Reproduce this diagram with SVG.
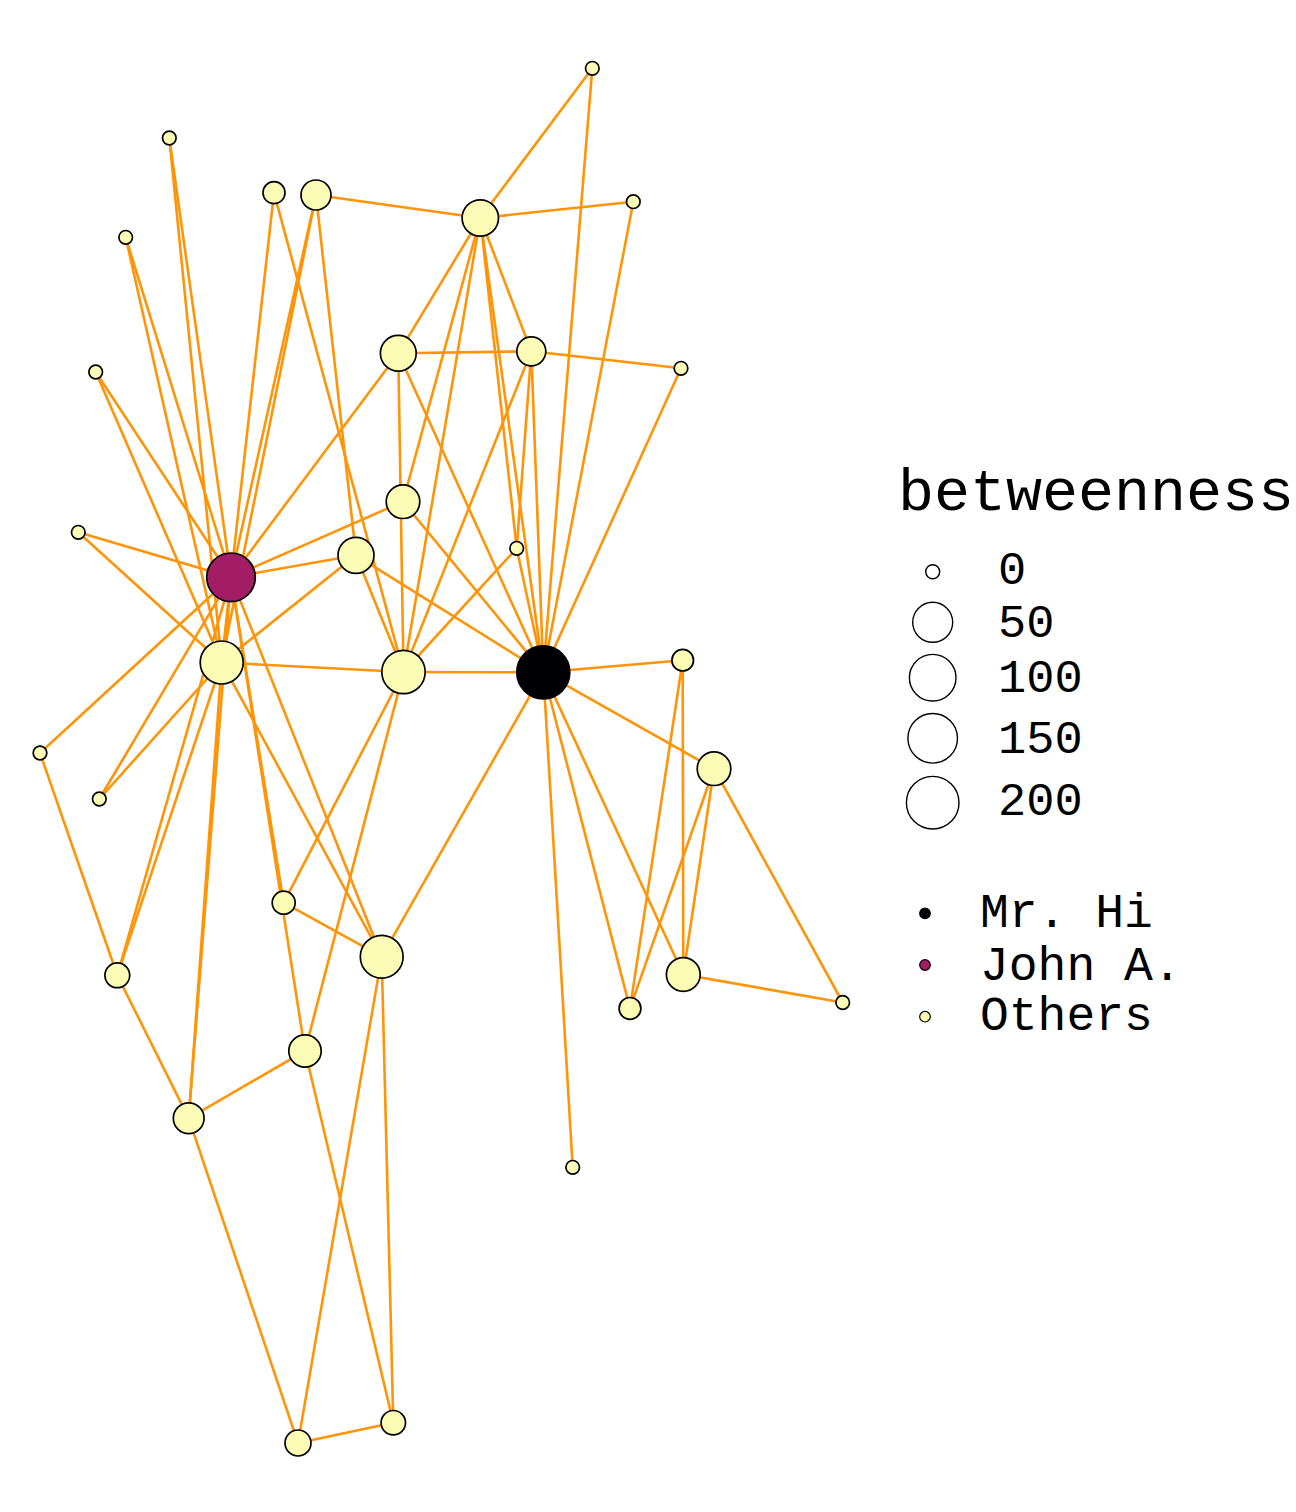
<svg xmlns="http://www.w3.org/2000/svg" width="1296" height="1512" viewBox="0 0 1296 1512">
<style>
.e{stroke:#FF9408;stroke-width:2.6;fill:none;stroke-linecap:round}
.n{stroke:#000;stroke-width:1.7}
.o{fill:#FBFDB7}
.lg{fill:none;stroke:#000;stroke-width:1.4}
.t{font-family:"Liberation Mono","Courier New",monospace;fill:#000}
</style>
<rect width="1296" height="1512" fill="#fff"/>
<g id="edges" class="e">
<line x1="543.3" y1="672.3" x2="480.3" y2="218"/>
<line x1="543.3" y1="672.3" x2="403.5" y2="672"/>
<line x1="543.3" y1="672.3" x2="531.3" y2="351.3"/>
<line x1="543.3" y1="672.3" x2="682.7" y2="660.2"/>
<line x1="543.3" y1="672.3" x2="714" y2="768.7"/>
<line x1="543.3" y1="672.3" x2="683.3" y2="974.5"/>
<line x1="543.3" y1="672.3" x2="516.7" y2="548.3"/>
<line x1="543.3" y1="672.3" x2="356" y2="555.3"/>
<line x1="543.3" y1="672.3" x2="630" y2="1008.4"/>
<line x1="543.3" y1="672.3" x2="572.7" y2="1167.3"/>
<line x1="543.3" y1="672.3" x2="681" y2="368.3"/>
<line x1="543.3" y1="672.3" x2="398.3" y2="353.3"/>
<line x1="543.3" y1="672.3" x2="592.3" y2="68.3"/>
<line x1="543.3" y1="672.3" x2="403" y2="501.7"/>
<line x1="543.3" y1="672.3" x2="633.3" y2="201.7"/>
<line x1="543.3" y1="672.3" x2="381.7" y2="956.7"/>
<line x1="480.3" y1="218" x2="403.5" y2="672"/>
<line x1="480.3" y1="218" x2="531.3" y2="351.3"/>
<line x1="480.3" y1="218" x2="516.7" y2="548.3"/>
<line x1="480.3" y1="218" x2="398.3" y2="353.3"/>
<line x1="480.3" y1="218" x2="592.3" y2="68.3"/>
<line x1="480.3" y1="218" x2="403" y2="501.7"/>
<line x1="480.3" y1="218" x2="633.3" y2="201.7"/>
<line x1="480.3" y1="218" x2="316" y2="195"/>
<line x1="403.5" y1="672" x2="531.3" y2="351.3"/>
<line x1="403.5" y1="672" x2="516.7" y2="548.3"/>
<line x1="403.5" y1="672" x2="356" y2="555.3"/>
<line x1="403.5" y1="672" x2="274" y2="192.7"/>
<line x1="403.5" y1="672" x2="398.3" y2="353.3"/>
<line x1="403.5" y1="672" x2="305" y2="1051"/>
<line x1="403.5" y1="672" x2="283.7" y2="902.7"/>
<line x1="403.5" y1="672" x2="221.7" y2="662.5"/>
<line x1="531.3" y1="351.3" x2="516.7" y2="548.3"/>
<line x1="531.3" y1="351.3" x2="681" y2="368.3"/>
<line x1="531.3" y1="351.3" x2="398.3" y2="353.3"/>
<line x1="682.7" y1="660.2" x2="683.3" y2="974.5"/>
<line x1="682.7" y1="660.2" x2="630" y2="1008.4"/>
<line x1="714" y1="768.7" x2="683.3" y2="974.5"/>
<line x1="714" y1="768.7" x2="630" y2="1008.4"/>
<line x1="714" y1="768.7" x2="842.7" y2="1002.5"/>
<line x1="683.3" y1="974.5" x2="842.7" y2="1002.5"/>
<line x1="356" y1="555.3" x2="316" y2="195"/>
<line x1="356" y1="555.3" x2="221.7" y2="662.5"/>
<line x1="356" y1="555.3" x2="231" y2="577.3"/>
<line x1="274" y1="192.7" x2="231" y2="577.3"/>
<line x1="398.3" y1="353.3" x2="231" y2="577.3"/>
<line x1="403" y1="501.7" x2="231" y2="577.3"/>
<line x1="99.3" y1="799" x2="221.7" y2="662.5"/>
<line x1="99.3" y1="799" x2="231" y2="577.3"/>
<line x1="78.3" y1="532.3" x2="221.7" y2="662.5"/>
<line x1="78.3" y1="532.3" x2="231" y2="577.3"/>
<line x1="95.7" y1="372" x2="221.7" y2="662.5"/>
<line x1="95.7" y1="372" x2="231" y2="577.3"/>
<line x1="125.7" y1="237.3" x2="221.7" y2="662.5"/>
<line x1="125.7" y1="237.3" x2="231" y2="577.3"/>
<line x1="169.3" y1="138" x2="221.7" y2="662.5"/>
<line x1="169.3" y1="138" x2="231" y2="577.3"/>
<line x1="188.7" y1="1118.3" x2="298" y2="1443"/>
<line x1="188.7" y1="1118.3" x2="305" y2="1051"/>
<line x1="188.7" y1="1118.3" x2="117.3" y2="975.3"/>
<line x1="188.7" y1="1118.3" x2="221.7" y2="662.5"/>
<line x1="188.7" y1="1118.3" x2="231" y2="577.3"/>
<line x1="393.3" y1="1422.7" x2="298" y2="1443"/>
<line x1="393.3" y1="1422.7" x2="305" y2="1051"/>
<line x1="393.3" y1="1422.7" x2="381.7" y2="956.7"/>
<line x1="298" y1="1443" x2="381.7" y2="956.7"/>
<line x1="40" y1="753" x2="117.3" y2="975.3"/>
<line x1="40" y1="753" x2="231" y2="577.3"/>
<line x1="305" y1="1051" x2="231" y2="577.3"/>
<line x1="283.7" y1="902.7" x2="381.7" y2="956.7"/>
<line x1="283.7" y1="902.7" x2="231" y2="577.3"/>
<line x1="117.3" y1="975.3" x2="221.7" y2="662.5"/>
<line x1="117.3" y1="975.3" x2="231" y2="577.3"/>
<line x1="316" y1="195" x2="221.7" y2="662.5"/>
<line x1="316" y1="195" x2="231" y2="577.3"/>
<line x1="381.7" y1="956.7" x2="221.7" y2="662.5"/>
<line x1="381.7" y1="956.7" x2="231" y2="577.3"/>
<line x1="221.7" y1="662.5" x2="231" y2="577.3"/>
</g>
<g id="nodes" class="n">
<g id="n12"><circle class="o" cx="572.7" cy="1167.3" r="6.8"/></g>
<g id="n13"><circle class="o" cx="681" cy="368.3" r="6.8"/></g>
<g id="n18"><circle class="o" cx="592.3" cy="68.3" r="6.8"/></g>
<g id="n22"><circle class="o" cx="633.3" cy="201.7" r="6.8"/></g>
<g id="n8"><circle class="o" cx="516.7" cy="548.3" r="6.8"/></g>
<g id="n17"><circle class="o" cx="842.7" cy="1002.5" r="6.8"/></g>
<g id="n27"><circle class="o" cx="40" cy="753" r="6.8"/></g>
<g id="n15"><circle class="o" cx="99.3" cy="799" r="6.8"/></g>
<g id="n16"><circle class="o" cx="78.3" cy="532.3" r="6.8"/></g>
<g id="n19"><circle class="o" cx="95.7" cy="372" r="6.8"/></g>
<g id="n21"><circle class="o" cx="125.7" cy="237.3" r="6.8"/></g>
<g id="n23"><circle class="o" cx="169.3" cy="138" r="6.8"/></g>
<g id="n10"><circle class="o" cx="274" cy="192.7" r="11"/></g>
<g id="n5"><circle class="o" cx="682.7" cy="660.2" r="10.8"/></g>
<g id="n11"><circle class="o" cx="630" cy="1008.4" r="10.9"/></g>
<g id="n29"><circle class="o" cx="283.7" cy="902.7" r="11.5"/></g>
<g id="n25"><circle class="o" cx="393.3" cy="1422.7" r="12.2"/></g>
<g id="n30"><circle class="o" cx="117.3" cy="975.3" r="12.4"/></g>
<g id="n26"><circle class="o" cx="298" cy="1443" r="13"/></g>
<g id="n4"><circle class="o" cx="531.3" cy="351.3" r="14.5"/></g>
<g id="n31"><circle class="o" cx="316" cy="195" r="15"/></g>
<g id="n24"><circle class="o" cx="188.7" cy="1118.3" r="15.4"/></g>
<g id="n28"><circle class="o" cx="305" cy="1051" r="16.2"/></g>
<g id="n6"><circle class="o" cx="714" cy="768.7" r="16.8"/></g>
<g id="n7"><circle class="o" cx="683.3" cy="974.5" r="16.9"/></g>
<g id="n20"><circle class="o" cx="403" cy="501.7" r="16.8"/></g>
<g id="n14"><circle class="o" cx="398.3" cy="353.3" r="17.9"/></g>
<g id="n2"><circle class="o" cx="480.3" cy="218" r="18.2"/></g>
<g id="n9"><circle class="o" cx="356" cy="555.3" r="18"/></g>
<g id="n32"><circle class="o" cx="381.7" cy="956.7" r="21.4"/></g>
<g id="n3"><circle class="o" cx="403.5" cy="672" r="21.7"/></g>
<g id="n33"><circle class="o" cx="221.7" cy="662.5" r="21.5"/></g>
<g id="n34"><circle cx="231" cy="577.3" r="24.3" fill="#A21D64"/></g>
<g id="n1"><circle cx="543.3" cy="672.3" r="26.5" fill="#000004"/></g>
</g>
<g id="legend">
<text class="t" x="898" y="510" font-size="60">betweenness</text>
<circle class="lg" cx="932.7" cy="571.7" r="7"/>
<circle class="lg" cx="932.7" cy="622.3" r="20"/>
<circle class="lg" cx="932.7" cy="677.7" r="23.3"/>
<circle class="lg" cx="932.7" cy="738.3" r="24.8"/>
<circle class="lg" cx="932.7" cy="802.7" r="26.3"/>
<text class="t" x="998" y="584" font-size="47">0</text>
<text class="t" x="998" y="636.7" font-size="47">50</text>
<text class="t" x="998" y="691.7" font-size="47">100</text>
<text class="t" x="998" y="753" font-size="47">150</text>
<text class="t" x="998" y="815" font-size="47">200</text>
<circle cx="925" cy="913.3" r="5.3" fill="#000004" stroke="#000" stroke-width="1.2"/>
<circle cx="925" cy="965" r="5.3" fill="#A21D64" stroke="#000" stroke-width="1.2"/>
<circle cx="925" cy="1016.7" r="5.3" fill="#FBFDB7" stroke="#000" stroke-width="1.2"/>
<text class="t" x="980" y="926.7" font-size="48">Mr. Hi</text>
<text class="t" x="980" y="980" font-size="48">John A.</text>
<text class="t" x="980" y="1030" font-size="48">Others</text>
</g>
</svg>
